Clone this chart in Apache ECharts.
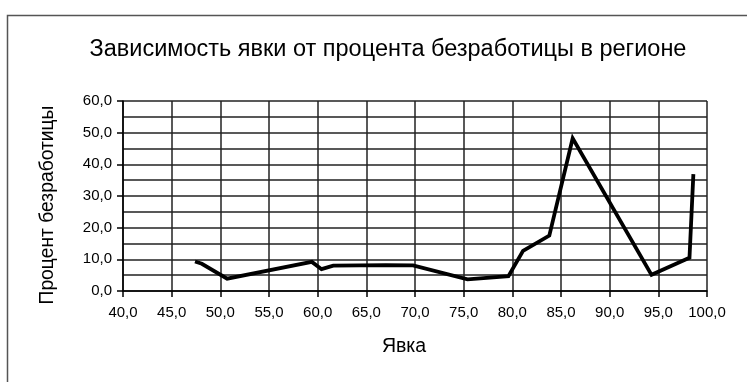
<!DOCTYPE html>
<html>
<head>
<meta charset="utf-8">
<style>
  html, body { margin: 0; padding: 0; background: #fff; }
  #chart { width: 747px; height: 382px; }
</style>
<script src="https://cdn.jsdelivr.net/npm/echarts@6/dist/echarts.min.js"></script>
</head>
<body>
<div id="chart"></div>
<script>
// Turnout (%) per region and the matching unemployment rate (%)
const turnout      = [47.4, 48.1, 50.7, 59.4, 60.4, 61.6, 67.0, 69.8, 75.4, 79.6, 81.1, 83.8, 86.2, 94.3, 98.2, 98.6];
const unemployment = [9.3,  8.6,  3.9,  9.2,  6.9,  8.0,  8.2,  8.1,  3.7,  4.7,  12.7, 17.5, 48.2, 5.1,  10.5, 36.9];

const xMin = 40, xMax = 100, xStep = 5;
const yMin = 0,  yMax = 60,  yStep = 10;

const titleText = 'Зависимость явки от процента безработицы в регионе';
const xName = 'Явка';
const yName = 'Процент безработицы';

const fmt = v => v.toFixed(1).replace('.', ',');
const font = 'Arial, "Liberation Sans", sans-serif';

const chart = echarts.init(document.getElementById('chart'), null, { renderer: 'canvas' });

chart.setOption({
  backgroundColor: '#fff',
  animation: false,
  title: {
    text: titleText,
    left: 383,
    top: 33,
    textAlign: 'center',
    textStyle: { fontFamily: font, fontSize: 23.5, fontWeight: 'normal', color: '#000' }
  },
  graphic: [{
    type: 'rect',
    shape: { x: 7.5, y: 15.5, width: 760, height: 400 },
    style: { fill: 'none', stroke: '#555', lineWidth: 1.5 },
    silent: true
  }],
  grid: { left: 123, right: 40, top: 101, bottom: 91 },
  xAxis: {
    type: 'value',
    min: xMin, max: xMax, interval: xStep,
    name: xName,
    nameLocation: 'middle',
    nameGap: 46,
    nameTextStyle: { fontFamily: font, fontSize: 19.5, color: '#000', padding: [0, 22, 0, 0] },
    axisLine: { show: true, onZero: false, lineStyle: { color: '#000', width: 1.5 } },
    axisTick: { show: true, length: 6, lineStyle: { color: '#000', width: 1.5 } },
    axisLabel: { formatter: fmt, fontFamily: font, fontSize: 15, color: '#000', margin: 14 },
    splitLine: { show: true, lineStyle: { color: '#222', width: 1.5 } }
  },
  yAxis: {
    type: 'value',
    min: yMin, max: yMax, interval: yStep,
    name: yName,
    nameLocation: 'middle',
    nameGap: 66,
    nameTextStyle: { fontFamily: font, fontSize: 19.3, color: '#000', padding: [0, 18, 0, 0] },
    axisLine: { show: true, lineStyle: { color: '#000', width: 1.5 } },
    axisTick: { show: true, length: 6, lineStyle: { color: '#000', width: 1.5 } },
    minorTick: { show: false, splitNumber: 2 },
    minorSplitLine: { show: true, lineStyle: { color: '#222', width: 1.5 } },
    axisLabel: { formatter: fmt, fontFamily: font, fontSize: 15, color: '#000', margin: 11 },
    splitLine: { show: true, lineStyle: { color: '#222', width: 1.5 } }
  },
  series: [{
    type: 'line',
    data: turnout.map((x, i) => [x, unemployment[i]]),
    symbol: 'none',
    lineStyle: { color: '#000', width: 3.8, join: 'miter' }
  }]
});
</script>
</body>
</html>
